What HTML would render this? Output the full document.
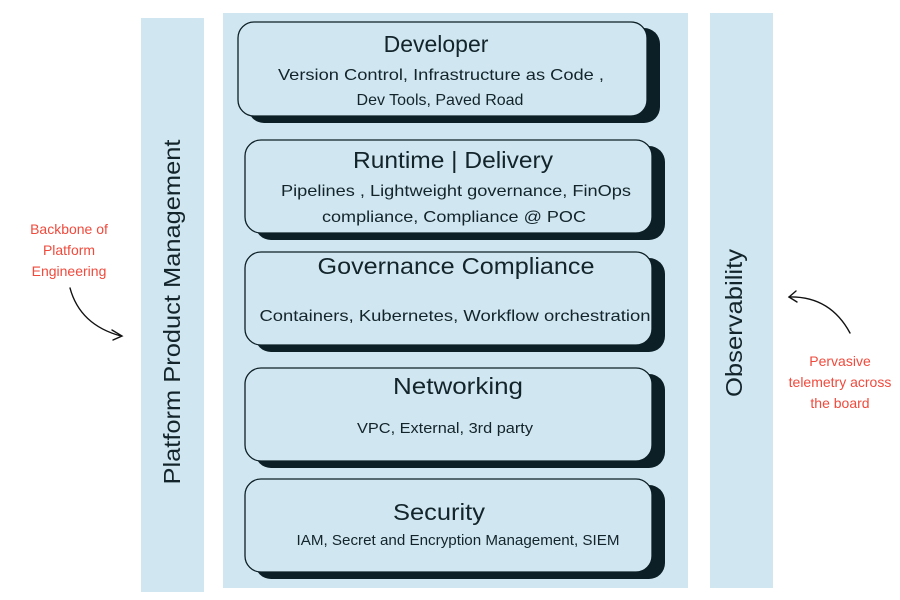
<!DOCTYPE html>
<html><head><meta charset="utf-8"><style>
html,body{margin:0;padding:0;background:#fff;}
svg{display:block;font-family:"Liberation Sans",sans-serif;}
</style></head><body>
<svg width="900" height="600" viewBox="0 0 900 600" xmlns="http://www.w3.org/2000/svg">
<rect x="141" y="18" width="63" height="574" fill="#d0e7f1"/>
<rect x="223" y="13" width="465" height="575" fill="#d0e7f1"/>
<rect x="710" y="13" width="63" height="575" fill="#d0e7f1"/>

<g fill="#0d1f26">
<rect x="248" y="28" width="412" height="95" rx="16"/>
<rect x="255" y="146" width="410" height="94" rx="16"/>
<rect x="255" y="258" width="410" height="94" rx="16"/>
<rect x="255" y="374" width="410" height="94" rx="16"/>
<rect x="255" y="485" width="410" height="94" rx="16"/>
</g>
<g fill="#d0e7f1" stroke="#0d1f26" stroke-width="1.3">
<rect x="238" y="22" width="409" height="94" rx="16"/>
<rect x="245" y="140" width="407" height="93" rx="16"/>
<rect x="245" y="252" width="407" height="93" rx="16"/>
<rect x="245" y="368" width="407" height="93" rx="16"/>
<rect x="245" y="479" width="407" height="93" rx="16"/>
</g>

<g fill="#13242b" text-anchor="middle">
<text x="436" y="52" font-size="23">Developer</text>
<text x="441" y="80" font-size="16" textLength="326" lengthAdjust="spacingAndGlyphs">Version Control, Infrastructure as Code ,</text>
<text x="440" y="105" font-size="16">Dev Tools, Paved Road</text>

<text x="453" y="168" font-size="23" textLength="200" lengthAdjust="spacingAndGlyphs">Runtime | Delivery</text>
<text x="456" y="196" font-size="16" textLength="350" lengthAdjust="spacingAndGlyphs">Pipelines , Lightweight governance, FinOps</text>
<text x="454" y="222" font-size="16" textLength="264" lengthAdjust="spacingAndGlyphs">compliance, Compliance @ POC</text>

<text x="456" y="274" font-size="23" textLength="277" lengthAdjust="spacingAndGlyphs">Governance Compliance</text>
<text x="455" y="321" font-size="16" textLength="391" lengthAdjust="spacingAndGlyphs">Containers, Kubernetes, Workflow orchestration</text>

<text x="458" y="394" font-size="23" textLength="130" lengthAdjust="spacingAndGlyphs">Networking</text>
<text x="445" y="433" font-size="15" textLength="176" lengthAdjust="spacingAndGlyphs">VPC, External, 3rd party</text>

<text x="439" y="520" font-size="23" textLength="92" lengthAdjust="spacingAndGlyphs">Security</text>
<text x="458" y="545" font-size="15" textLength="323" lengthAdjust="spacingAndGlyphs">IAM, Secret and Encryption Management, SIEM</text>
</g>

<text transform="translate(180,312) rotate(-90)" text-anchor="middle" font-size="23" fill="#13242b" textLength="345" lengthAdjust="spacingAndGlyphs">Platform Product Management</text>
<text transform="translate(742,323) rotate(-90)" text-anchor="middle" font-size="23" fill="#13242b" textLength="148" lengthAdjust="spacingAndGlyphs">Observability</text>

<g fill="#f04a3c" font-size="14" text-anchor="middle">
<text x="69" y="234">Backbone of</text>
<text x="69" y="255">Platform</text>
<text x="69" y="276">Engineering</text>
<text x="840" y="366">Pervasive</text>
<text x="840" y="387">telemetry across</text>
<text x="840" y="408">the board</text>
</g>

<g fill="none" stroke="#111" stroke-width="1.4" stroke-linecap="round">
<path d="M70 288 Q80 325 121 336"/>
<path d="M112 330 L122 336 L113 340"/>
<path d="M850 333 Q830 296 789 297"/>
<path d="M796 291 L789 297 L797 302"/>
</g>
</svg>
</body></html>
